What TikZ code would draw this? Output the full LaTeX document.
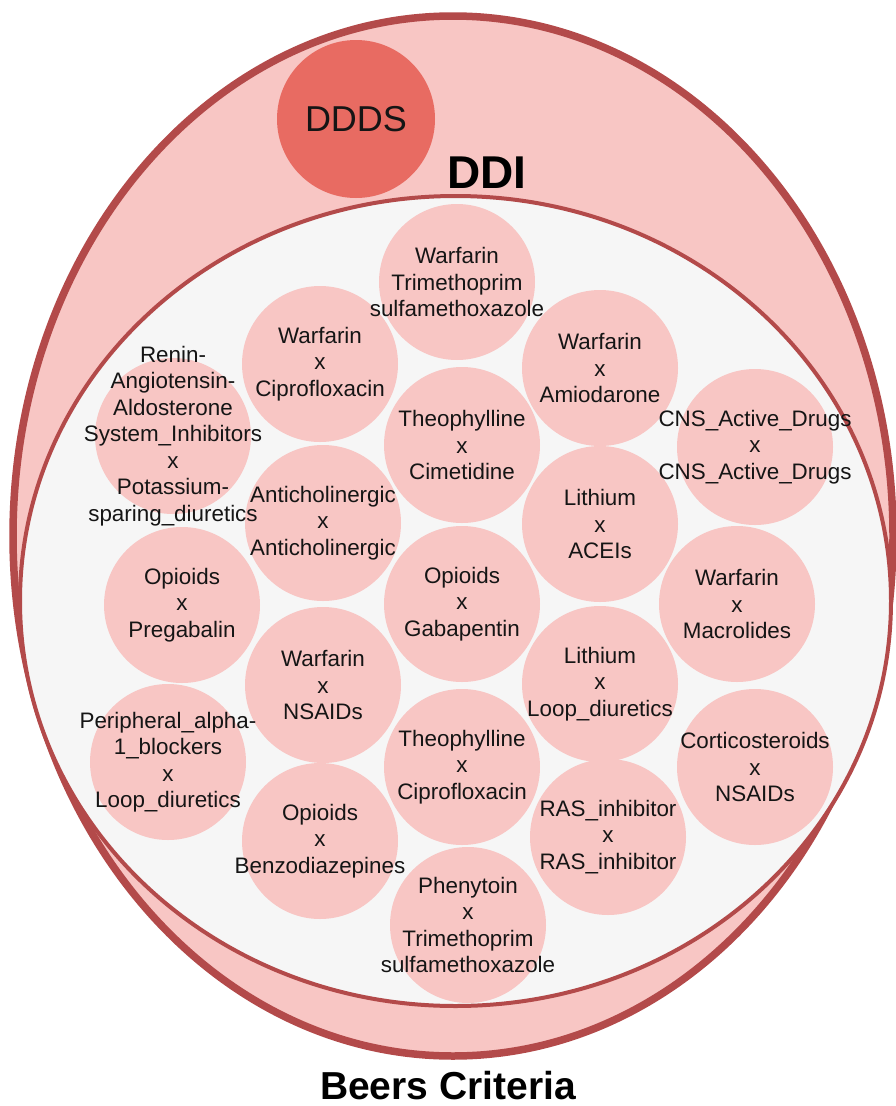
\documentclass[tikz,border=0pt]{standalone}
\usepackage{fontspec}
\setmainfont{Liberation Sans}
\usetikzlibrary{shapes.geometric}
\definecolor{bandpink}{HTML}{F8C6C4}
\definecolor{rimred}{HTML}{B34A4A}
\definecolor{innerbg}{HTML}{F6F6F6}
\definecolor{dddsred}{HTML}{E86B62}
\definecolor{inktext}{HTML}{151515}
\begin{document}
\begin{tikzpicture}[x=1pt,y=-1pt,
  setring/.style={ellipse, draw=rimred, inner sep=0pt},
  pair/.style={circle, fill=bandpink, minimum size=156pt, inner sep=0pt},
  pairtext/.style={align=center, text=inktext, inner sep=0pt,
    font=\fontsize{22.4}{26.5}\selectfont},
  settitle/.style={text=black, inner sep=0pt}]
\useasboundingbox (0,0) rectangle (896,1106);

% Beers Criteria (outer set)
\node[setring, fill=bandpink, line width=7.5pt,
      minimum width=880pt, minimum height=1040pt] (beers) at (453,536) {};
% DDDS
\node[circle, fill=dddsred, minimum size=158pt, inner sep=0pt,
      font=\fontsize{36}{40}\selectfont, text=inktext] (ddds) at (356,119) {DDDS};
% DDI (inner set)
\node[setring, fill=innerbg, line width=4pt,
      minimum width=871pt, minimum height=810pt] (ddi) at (455.5,601) {};

\node[settitle, font=\bfseries\fontsize{46}{50}\selectfont] (ddilabel) at (487,173) {DDI};
\node[settitle, font=\bfseries\fontsize{39}{44}\selectfont] (beerslabel) at (448,1086) {Beers Criteria};

% drug-pair discs
\node[pair] (p1) at (457,282) {};
\node[pair] (p2) at (320,364) {};
\node[pair] (p3) at (600,368) {};
\node[pair] (p4) at (173,436) {};
\node[pair] (p5) at (462,445) {};
\node[pair] (p6) at (755,447) {};
\node[pair] (p7) at (323,523) {};
\node[pair] (p8) at (600,524) {};
\node[pair] (p9) at (182,605) {};
\node[pair] (p10) at (462,604) {};
\node[pair] (p11) at (737,604) {};
\node[pair] (p12) at (323,685) {};
\node[pair] (p13) at (600,684) {};
\node[pair] (p14) at (168,762) {};
\node[pair] (p15) at (462,767) {};
\node[pair] (p16) at (755,767) {};
\node[pair] (p17) at (320,841) {};
\node[pair] (p18) at (608,837) {};
\node[pair] (p19) at (468,925) {};

% drug-pair labels, set over all discs
\node[pairtext] (t1) at (p1) {Warfarin\\Trimethoprim\\sulfamethoxazole};
\node[pairtext] (t2) at (p2) {Warfarin\\x\\Ciprofloxacin};
\node[pairtext] (t3) at (p3) {Warfarin\\x\\Amiodarone};
\node[pairtext] (t4) at (p4) {Renin-\\Angiotensin-\\Aldosterone\\System\_Inhibitors\\x\\Potassium-\\sparing\_diuretics};
\node[pairtext] (t5) at (p5) {Theophylline\\x\\Cimetidine};
\node[pairtext] (t6) at (p6) {CNS\_Active\_Drugs\\x\\CNS\_Active\_Drugs};
\node[pairtext] (t7) at (p7) {Anticholinergic\\x\\Anticholinergic};
\node[pairtext] (t8) at (p8) {Lithium\\x\\ACEIs};
\node[pairtext] (t9) at (p9) {Opioids\\x\\Pregabalin};
\node[pairtext] (t10) at (p10) {Opioids\\x\\Gabapentin};
\node[pairtext] (t11) at (p11) {Warfarin\\x\\Macrolides};
\node[pairtext] (t12) at (p12) {Warfarin\\x\\NSAIDs};
\node[pairtext] (t13) at (p13) {Lithium\\x\\Loop\_diuretics};
\node[pairtext] (t14) at (p14) {Peripheral\_alpha-\\1\_blockers\\x\\Loop\_diuretics};
\node[pairtext] (t15) at (p15) {Theophylline\\x\\Ciprofloxacin};
\node[pairtext] (t16) at (p16) {Corticosteroids\\x\\NSAIDs};
\node[pairtext] (t17) at (p17) {Opioids\\x\\Benzodiazepines};
\node[pairtext] (t18) at (p18) {RAS\_inhibitor\\x\\RAS\_inhibitor};
\node[pairtext] (t19) at (p19) {Phenytoin\\x\\Trimethoprim\\sulfamethoxazole};
\end{tikzpicture}
\end{document}
